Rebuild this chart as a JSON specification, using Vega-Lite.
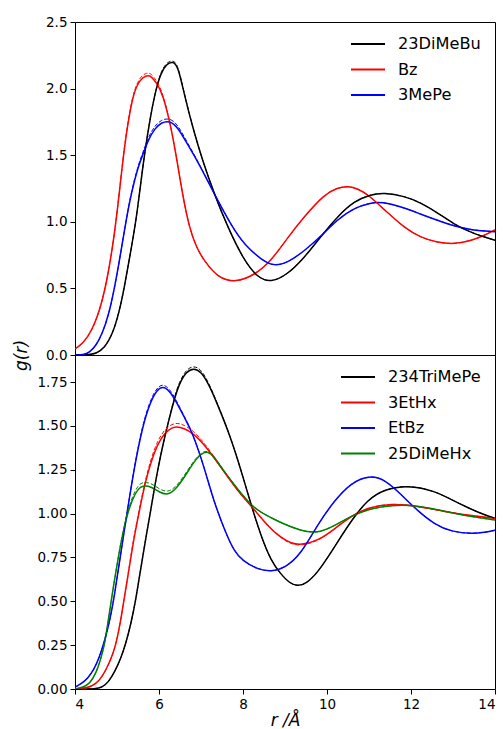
{
  "$schema": "https://vega.github.io/schema/vega-lite/v6.json",
  "padding": {"left": 11, "top": 14, "right": 0, "bottom": 4},
  "background": "white",
  "bounds": "flush",
  "config": {
    "font": "DejaVu Sans",
    "view": {"stroke": "black", "strokeWidth": 1},
    "axis": {
      "grid": false, "domain": false, "tickColor": "black", "tickSize": 5, "tickWidth": 1,
      "labelFont": "DejaVu Sans", "labelFontSize": 13.5, "labelColor": "black", "labelPadding": 3,
      "titleFont": "DejaVu Sans", "titleFontSize": 17, "titleFontWeight": "normal", "titleColor": "black"
    },
    "legend": {
      "orient": "top-right", "offset": 14, "padding": 0,
      "labelFont": "DejaVu Sans", "labelFontSize": 16.2, "labelColor": "black",
      "symbolType": "stroke", "symbolSize": 1156, "symbolStrokeWidth": 2, "labelOffset": 12,
      "clipHeight": 16, "rowPadding": 8.5
    }
  },
  "datasets": {
    "top": [
      {"s":"Bz","r":4.0,"g":0.045,"d":0.045},{"s":"Bz","r":4.2,"g":0.09,"d":0.09},{"s":"Bz","r":4.4,"g":0.18,"d":0.18},{"s":"Bz","r":4.62,"g":0.36,"d":0.36},{"s":"Bz","r":4.8,"g":0.62,"d":0.62},{"s":"Bz","r":4.94,"g":0.91,"d":0.91},{"s":"Bz","r":5.05,"g":1.2,"d":1.2},{"s":"Bz","r":5.17,"g":1.55,"d":1.56},{"s":"Bz","r":5.3,"g":1.82,"d":1.83},{"s":"Bz","r":5.41,"g":1.98,"d":1.99},{"s":"Bz","r":5.55,"g":2.07,"d":2.09},{"s":"Bz","r":5.71,"g":2.1,"d":2.12},{"s":"Bz","r":5.81,"g":2.095,"d":2.115},{"s":"Bz","r":5.95,"g":2.04,"d":2.055},{"s":"Bz","r":6.09,"g":1.96,"d":1.97},{"s":"Bz","r":6.29,"g":1.71,"d":1.71},{"s":"Bz","r":6.43,"g":1.456,"d":1.456},{"s":"Bz","r":6.56,"g":1.206,"d":1.206},{"s":"Bz","r":6.72,"g":0.956,"d":0.956},{"s":"Bz","r":6.9,"g":0.8,"d":0.8},{"s":"Bz","r":7.08,"g":0.706,"d":0.706},{"s":"Bz","r":7.4,"g":0.58,"d":0.58},{"s":"Bz","r":7.83,"g":0.543,"d":0.543},{"s":"Bz","r":8.27,"g":0.6,"d":0.6},{"s":"Bz","r":8.67,"g":0.706,"d":0.706},{"s":"Bz","r":9.06,"g":0.88,"d":0.88},{"s":"Bz","r":9.46,"g":1.04,"d":1.04},{"s":"Bz","r":9.94,"g":1.206,"d":1.206},{"s":"Bz","r":10.25,"g":1.256,"d":1.256},{"s":"Bz","r":10.51,"g":1.269,"d":1.269},{"s":"Bz","r":10.75,"g":1.245,"d":1.245},{"s":"Bz","r":10.97,"g":1.206,"d":1.206},{"s":"Bz","r":11.4,"g":1.081,"d":1.081},{"s":"Bz","r":11.84,"g":0.956,"d":0.956},{"s":"Bz","r":12.24,"g":0.88,"d":0.88},{"s":"Bz","r":12.63,"g":0.845,"d":0.845},{"s":"Bz","r":13.03,"g":0.831,"d":0.831},{"s":"Bz","r":13.43,"g":0.86,"d":0.86},{"s":"Bz","r":13.7,"g":0.89,"d":0.89},{"s":"Bz","r":14.0,"g":0.94,"d":0.94},
      {"s":"23DiMeBu","r":4.0,"g":0.0,"d":0.0},{"s":"23DiMeBu","r":4.3,"g":0.0,"d":0.0},{"s":"23DiMeBu","r":4.5,"g":0.01,"d":0.01},{"s":"23DiMeBu","r":4.7,"g":0.05,"d":0.05},{"s":"23DiMeBu","r":4.9,"g":0.16,"d":0.16},{"s":"23DiMeBu","r":5.05,"g":0.32,"d":0.32},{"s":"23DiMeBu","r":5.17,"g":0.5,"d":0.5},{"s":"23DiMeBu","r":5.3,"g":0.73,"d":0.73},{"s":"23DiMeBu","r":5.45,"g":1.0,"d":1.0},{"s":"23DiMeBu","r":5.55,"g":1.25,"d":1.25},{"s":"23DiMeBu","r":5.65,"g":1.5,"d":1.5},{"s":"23DiMeBu","r":5.8,"g":1.8,"d":1.8},{"s":"23DiMeBu","r":5.93,"g":2.0,"d":2.0},{"s":"23DiMeBu","r":6.05,"g":2.12,"d":2.13},{"s":"23DiMeBu","r":6.18,"g":2.185,"d":2.195},{"s":"23DiMeBu","r":6.33,"g":2.205,"d":2.215},{"s":"23DiMeBu","r":6.45,"g":2.17,"d":2.18},{"s":"23DiMeBu","r":6.6,"g":1.96,"d":1.965},{"s":"23DiMeBu","r":6.8,"g":1.71,"d":1.71},{"s":"23DiMeBu","r":7.04,"g":1.456,"d":1.456},{"s":"23DiMeBu","r":7.32,"g":1.206,"d":1.206},{"s":"23DiMeBu","r":7.64,"g":0.956,"d":0.956},{"s":"23DiMeBu","r":8.03,"g":0.706,"d":0.706},{"s":"23DiMeBu","r":8.35,"g":0.58,"d":0.58},{"s":"23DiMeBu","r":8.67,"g":0.543,"d":0.543},{"s":"23DiMeBu","r":9.06,"g":0.605,"d":0.605},{"s":"23DiMeBu","r":9.46,"g":0.73,"d":0.73},{"s":"23DiMeBu","r":9.86,"g":0.893,"d":0.893},{"s":"23DiMeBu","r":10.25,"g":1.04,"d":1.04},{"s":"23DiMeBu","r":10.65,"g":1.156,"d":1.156},{"s":"23DiMeBu","r":11.05,"g":1.206,"d":1.206},{"s":"23DiMeBu","r":11.36,"g":1.218,"d":1.218},{"s":"23DiMeBu","r":11.84,"g":1.193,"d":1.193},{"s":"23DiMeBu","r":12.24,"g":1.143,"d":1.143},{"s":"23DiMeBu","r":12.63,"g":1.068,"d":1.068},{"s":"23DiMeBu","r":13.03,"g":0.981,"d":0.981},{"s":"23DiMeBu","r":13.43,"g":0.918,"d":0.918},{"s":"23DiMeBu","r":14.0,"g":0.861,"d":0.861},
      {"s":"3MePe","r":4.0,"g":0.0,"d":0.0},{"s":"3MePe","r":4.2,"g":0.0,"d":0.0},{"s":"3MePe","r":4.35,"g":0.02,"d":0.02},{"s":"3MePe","r":4.5,"g":0.07,"d":0.07},{"s":"3MePe","r":4.65,"g":0.16,"d":0.16},{"s":"3MePe","r":4.8,"g":0.3,"d":0.3},{"s":"3MePe","r":4.94,"g":0.5,"d":0.5},{"s":"3MePe","r":5.08,"g":0.75,"d":0.75},{"s":"3MePe","r":5.21,"g":1.0,"d":1.0},{"s":"3MePe","r":5.35,"g":1.23,"d":1.24},{"s":"3MePe","r":5.5,"g":1.41,"d":1.42},{"s":"3MePe","r":5.61,"g":1.5,"d":1.515},{"s":"3MePe","r":5.75,"g":1.62,"d":1.64},{"s":"3MePe","r":5.9,"g":1.7,"d":1.72},{"s":"3MePe","r":6.05,"g":1.745,"d":1.765},{"s":"3MePe","r":6.25,"g":1.76,"d":1.78},{"s":"3MePe","r":6.45,"g":1.71,"d":1.73},{"s":"3MePe","r":6.68,"g":1.58,"d":1.59},{"s":"3MePe","r":6.92,"g":1.456,"d":1.46},{"s":"3MePe","r":7.32,"g":1.206,"d":1.206},{"s":"3MePe","r":7.75,"g":0.956,"d":0.956},{"s":"3MePe","r":8.03,"g":0.83,"d":0.83},{"s":"3MePe","r":8.47,"g":0.706,"d":0.706},{"s":"3MePe","r":8.75,"g":0.668,"d":0.668},{"s":"3MePe","r":9.06,"g":0.693,"d":0.693},{"s":"3MePe","r":9.46,"g":0.78,"d":0.78},{"s":"3MePe","r":9.86,"g":0.893,"d":0.893},{"s":"3MePe","r":10.25,"g":1.018,"d":1.018},{"s":"3MePe","r":10.65,"g":1.106,"d":1.106},{"s":"3MePe","r":11.05,"g":1.143,"d":1.143},{"s":"3MePe","r":11.29,"g":1.151,"d":1.151},{"s":"3MePe","r":11.84,"g":1.106,"d":1.106},{"s":"3MePe","r":12.24,"g":1.056,"d":1.056},{"s":"3MePe","r":12.63,"g":1.011,"d":1.011},{"s":"3MePe","r":13.03,"g":0.968,"d":0.968},{"s":"3MePe","r":13.43,"g":0.938,"d":0.938},{"s":"3MePe","r":14.0,"g":0.926,"d":0.926}
    ],
    "bot": [
      {"s":"234TriMePe","r":4.0,"g":0.0,"d":0.0},{"s":"234TriMePe","r":4.5,"g":0.0,"d":0.0},{"s":"234TriMePe","r":4.65,"g":0.01,"d":0.01},{"s":"234TriMePe","r":4.8,"g":0.04,"d":0.04},{"s":"234TriMePe","r":4.95,"g":0.1,"d":0.1},{"s":"234TriMePe","r":5.1,"g":0.18,"d":0.18},{"s":"234TriMePe","r":5.21,"g":0.26,"d":0.26},{"s":"234TriMePe","r":5.33,"g":0.37,"d":0.37},{"s":"234TriMePe","r":5.44,"g":0.5,"d":0.5},{"s":"234TriMePe","r":5.52,"g":0.62,"d":0.62},{"s":"234TriMePe","r":5.61,"g":0.75,"d":0.75},{"s":"234TriMePe","r":5.7,"g":0.88,"d":0.88},{"s":"234TriMePe","r":5.79,"g":1.0,"d":1.0},{"s":"234TriMePe","r":5.88,"g":1.13,"d":1.13},{"s":"234TriMePe","r":5.97,"g":1.25,"d":1.25},{"s":"234TriMePe","r":6.09,"g":1.39,"d":1.39},{"s":"234TriMePe","r":6.21,"g":1.51,"d":1.51},{"s":"234TriMePe","r":6.35,"g":1.64,"d":1.65},{"s":"234TriMePe","r":6.48,"g":1.74,"d":1.75},{"s":"234TriMePe","r":6.65,"g":1.81,"d":1.822},{"s":"234TriMePe","r":6.83,"g":1.83,"d":1.843},{"s":"234TriMePe","r":7.0,"g":1.81,"d":1.822},{"s":"234TriMePe","r":7.18,"g":1.74,"d":1.748},{"s":"234TriMePe","r":7.38,"g":1.63,"d":1.635},{"s":"234TriMePe","r":7.7,"g":1.44,"d":1.44},{"s":"234TriMePe","r":7.95,"g":1.25,"d":1.25},{"s":"234TriMePe","r":8.18,"g":1.06,"d":1.06},{"s":"234TriMePe","r":8.43,"g":0.87,"d":0.87},{"s":"234TriMePe","r":8.67,"g":0.73,"d":0.73},{"s":"234TriMePe","r":8.9,"g":0.655,"d":0.655},{"s":"234TriMePe","r":9.1,"g":0.605,"d":0.605},{"s":"234TriMePe","r":9.3,"g":0.585,"d":0.585},{"s":"234TriMePe","r":9.5,"g":0.6,"d":0.6},{"s":"234TriMePe","r":9.78,"g":0.663,"d":0.663},{"s":"234TriMePe","r":10.17,"g":0.806,"d":0.806},{"s":"234TriMePe","r":10.57,"g":0.958,"d":0.958},{"s":"234TriMePe","r":10.97,"g":1.081,"d":1.081},{"s":"234TriMePe","r":11.37,"g":1.138,"d":1.138},{"s":"234TriMePe","r":11.92,"g":1.163,"d":1.163},{"s":"234TriMePe","r":12.56,"g":1.129,"d":1.129},{"s":"234TriMePe","r":12.95,"g":1.081,"d":1.081},{"s":"234TriMePe","r":13.35,"g":1.034,"d":1.034},{"s":"234TriMePe","r":13.75,"g":0.992,"d":0.992},{"s":"234TriMePe","r":14.0,"g":0.973,"d":0.973},
      {"s":"3EtHx","r":4.0,"g":0.0,"d":0.0},{"s":"3EtHx","r":4.3,"g":0.005,"d":0.005},{"s":"3EtHx","r":4.5,"g":0.03,"d":0.03},{"s":"3EtHx","r":4.65,"g":0.07,"d":0.07},{"s":"3EtHx","r":4.8,"g":0.14,"d":0.14},{"s":"3EtHx","r":4.9,"g":0.2,"d":0.2},{"s":"3EtHx","r":4.98,"g":0.26,"d":0.26},{"s":"3EtHx","r":5.08,"g":0.38,"d":0.38},{"s":"3EtHx","r":5.16,"g":0.5,"d":0.5},{"s":"3EtHx","r":5.25,"g":0.63,"d":0.63},{"s":"3EtHx","r":5.33,"g":0.75,"d":0.76},{"s":"3EtHx","r":5.42,"g":0.88,"d":0.89},{"s":"3EtHx","r":5.52,"g":1.0,"d":1.01},{"s":"3EtHx","r":5.62,"g":1.12,"d":1.13},{"s":"3EtHx","r":5.73,"g":1.23,"d":1.245},{"s":"3EtHx","r":5.9,"g":1.36,"d":1.38},{"s":"3EtHx","r":6.05,"g":1.43,"d":1.45},{"s":"3EtHx","r":6.2,"g":1.475,"d":1.495},{"s":"3EtHx","r":6.4,"g":1.5,"d":1.52},{"s":"3EtHx","r":6.6,"g":1.485,"d":1.505},{"s":"3EtHx","r":6.8,"g":1.46,"d":1.475},{"s":"3EtHx","r":7.08,"g":1.395,"d":1.405},{"s":"3EtHx","r":7.48,"g":1.262,"d":1.265},{"s":"3EtHx","r":7.87,"g":1.129,"d":1.129},{"s":"3EtHx","r":8.23,"g":1.034,"d":1.034},{"s":"3EtHx","r":8.59,"g":0.929,"d":0.929},{"s":"3EtHx","r":8.9,"g":0.863,"d":0.86},{"s":"3EtHx","r":9.15,"g":0.83,"d":0.826},{"s":"3EtHx","r":9.38,"g":0.821,"d":0.816},{"s":"3EtHx","r":9.78,"g":0.844,"d":0.842},{"s":"3EtHx","r":10.17,"g":0.91,"d":0.91},{"s":"3EtHx","r":10.57,"g":0.986,"d":0.986},{"s":"3EtHx","r":10.97,"g":1.034,"d":1.034},{"s":"3EtHx","r":11.52,"g":1.059,"d":1.059},{"s":"3EtHx","r":12.16,"g":1.043,"d":1.043},{"s":"3EtHx","r":12.95,"g":1.005,"d":1.005},{"s":"3EtHx","r":13.5,"g":0.986,"d":0.986},{"s":"3EtHx","r":14.0,"g":0.973,"d":0.973},
      {"s":"EtBz","r":4.0,"g":0.01,"d":0.01},{"s":"EtBz","r":4.15,"g":0.03,"d":0.03},{"s":"EtBz","r":4.3,"g":0.06,"d":0.06},{"s":"EtBz","r":4.45,"g":0.11,"d":0.11},{"s":"EtBz","r":4.58,"g":0.18,"d":0.18},{"s":"EtBz","r":4.7,"g":0.27,"d":0.27},{"s":"EtBz","r":4.82,"g":0.38,"d":0.38},{"s":"EtBz","r":4.94,"g":0.53,"d":0.53},{"s":"EtBz","r":5.08,"g":0.76,"d":0.76},{"s":"EtBz","r":5.25,"g":1.02,"d":1.02},{"s":"EtBz","r":5.41,"g":1.26,"d":1.265},{"s":"EtBz","r":5.61,"g":1.5,"d":1.51},{"s":"EtBz","r":5.8,"g":1.64,"d":1.652},{"s":"EtBz","r":5.95,"g":1.705,"d":1.717},{"s":"EtBz","r":6.09,"g":1.727,"d":1.74},{"s":"EtBz","r":6.25,"g":1.7,"d":1.712},{"s":"EtBz","r":6.4,"g":1.642,"d":1.652},{"s":"EtBz","r":6.6,"g":1.55,"d":1.555},{"s":"EtBz","r":6.8,"g":1.461,"d":1.461},{"s":"EtBz","r":7.08,"g":1.262,"d":1.262},{"s":"EtBz","r":7.3,"g":1.072,"d":1.072},{"s":"EtBz","r":7.6,"g":0.882,"d":0.882},{"s":"EtBz","r":7.79,"g":0.787,"d":0.787},{"s":"EtBz","r":7.99,"g":0.73,"d":0.73},{"s":"EtBz","r":8.35,"g":0.682,"d":0.682},{"s":"EtBz","r":8.67,"g":0.669,"d":0.669},{"s":"EtBz","r":9.0,"g":0.69,"d":0.69},{"s":"EtBz","r":9.38,"g":0.768,"d":0.768},{"s":"EtBz","r":9.78,"g":0.939,"d":0.939},{"s":"EtBz","r":10.17,"g":1.072,"d":1.072},{"s":"EtBz","r":10.57,"g":1.176,"d":1.176},{"s":"EtBz","r":11.01,"g":1.218,"d":1.218},{"s":"EtBz","r":11.37,"g":1.196,"d":1.196},{"s":"EtBz","r":11.76,"g":1.11,"d":1.11},{"s":"EtBz","r":12.16,"g":1.015,"d":1.015},{"s":"EtBz","r":12.56,"g":0.939,"d":0.939},{"s":"EtBz","r":12.95,"g":0.897,"d":0.897},{"s":"EtBz","r":13.51,"g":0.882,"d":0.882},{"s":"EtBz","r":14.0,"g":0.905,"d":0.905},
      {"s":"25DiMeHx","r":4.0,"g":0.0,"d":0.0},{"s":"25DiMeHx","r":4.2,"g":0.01,"d":0.01},{"s":"25DiMeHx","r":4.35,"g":0.03,"d":0.03},{"s":"25DiMeHx","r":4.5,"g":0.09,"d":0.09},{"s":"25DiMeHx","r":4.6,"g":0.16,"d":0.16},{"s":"25DiMeHx","r":4.7,"g":0.25,"d":0.25},{"s":"25DiMeHx","r":4.78,"g":0.37,"d":0.37},{"s":"25DiMeHx","r":4.86,"g":0.5,"d":0.5},{"s":"25DiMeHx","r":4.94,"g":0.62,"d":0.62},{"s":"25DiMeHx","r":5.03,"g":0.75,"d":0.75},{"s":"25DiMeHx","r":5.14,"g":0.89,"d":0.9},{"s":"25DiMeHx","r":5.25,"g":1.0,"d":1.012},{"s":"25DiMeHx","r":5.38,"g":1.09,"d":1.105},{"s":"25DiMeHx","r":5.5,"g":1.14,"d":1.16},{"s":"25DiMeHx","r":5.61,"g":1.16,"d":1.18},{"s":"25DiMeHx","r":5.81,"g":1.155,"d":1.175},{"s":"25DiMeHx","r":6.0,"g":1.122,"d":1.14},{"s":"25DiMeHx","r":6.21,"g":1.104,"d":1.12},{"s":"25DiMeHx","r":6.4,"g":1.14,"d":1.152},{"s":"25DiMeHx","r":6.6,"g":1.205,"d":1.215},{"s":"25DiMeHx","r":6.84,"g":1.3,"d":1.306},{"s":"25DiMeHx","r":7.0,"g":1.34,"d":1.345},{"s":"25DiMeHx","r":7.14,"g":1.357,"d":1.361},{"s":"25DiMeHx","r":7.3,"g":1.33,"d":1.335},{"s":"25DiMeHx","r":7.48,"g":1.262,"d":1.266},{"s":"25DiMeHx","r":7.87,"g":1.138,"d":1.14},{"s":"25DiMeHx","r":8.27,"g":1.024,"d":1.024},{"s":"25DiMeHx","r":8.67,"g":0.977,"d":0.977},{"s":"25DiMeHx","r":8.9,"g":0.948,"d":0.948},{"s":"25DiMeHx","r":9.38,"g":0.901,"d":0.901},{"s":"25DiMeHx","r":9.78,"g":0.888,"d":0.888},{"s":"25DiMeHx","r":10.17,"g":0.929,"d":0.929},{"s":"25DiMeHx","r":10.57,"g":0.986,"d":0.986},{"s":"25DiMeHx","r":10.97,"g":1.024,"d":1.024},{"s":"25DiMeHx","r":11.52,"g":1.049,"d":1.049},{"s":"25DiMeHx","r":12.16,"g":1.047,"d":1.047},{"s":"25DiMeHx","r":12.95,"g":1.005,"d":1.005},{"s":"25DiMeHx","r":13.5,"g":0.98,"d":0.98},{"s":"25DiMeHx","r":14.0,"g":0.963,"d":0.963}
    ]
  },
  "spacing": 0,
  "resolve": {"scale": {"color": "independent", "x": "independent", "y": "independent"}, "legend": {"color": "independent"}},
  "vconcat": [
    {
      "width": 420, "height": 333,
      "data": {"name": "top"},
      "encoding": {
        "x": {"field": "r", "type": "quantitative", "scale": {"domain": [4, 14], "nice": false, "zero": false}, "axis": null},
        "color": {"field": "s", "type": "nominal", "sort": null, "title": null, "scale": {"domain": ["23DiMeBu", "Bz", "3MePe"], "range": ["#000000", "#ff0000", "#0000ff"]}}
      },
      "layer": [
        {"mark": {"type": "line", "strokeWidth": 1.5, "interpolate": "basis", "clip": true},
         "encoding": {"y": {"field": "g", "type": "quantitative", "scale": {"domain": [0, 2.5], "nice": false},
           "axis": {"values": [0, 0.5, 1, 1.5, 2, 2.5], "format": ".1f", "title": "g(r)", "titleFontStyle": "italic", "titleX": -54, "titleY": 333, "titleAlign": "center", "titleBaseline": "middle", "titleAngle": -90}}}},
        {"mark": {"type": "line", "strokeWidth": 1, "strokeDash": [4, 2], "interpolate": "basis", "clip": true},
         "encoding": {"y": {"field": "d", "type": "quantitative"}}}
      ]
    },
    {
      "width": 420, "height": 334,
      "data": {"name": "bot"},
      "encoding": {
        "x": {"field": "r", "type": "quantitative", "scale": {"domain": [4, 14], "nice": false, "zero": false},
          "axis": {"values": [4, 6, 8, 10, 12, 14], "format": "d", "title": "r /Å", "titleFontStyle": "italic", "titlePadding": 2}},
        "color": {"field": "s", "type": "nominal", "sort": null, "title": null, "scale": {"domain": ["234TriMePe", "3EtHx", "EtBz", "25DiMeHx"], "range": ["#000000", "#ff0000", "#0000ff", "#008000"]}}
      },
      "layer": [
        {"mark": {"type": "line", "strokeWidth": 1.5, "interpolate": "basis", "clip": true},
         "encoding": {"y": {"field": "g", "type": "quantitative", "scale": {"domain": [0, 1.904], "nice": false},
           "axis": {"values": [0, 0.25, 0.5, 0.75, 1, 1.25, 1.5, 1.75], "format": ".2f", "title": null}}}},
        {"mark": {"type": "line", "strokeWidth": 1, "strokeDash": [4, 2], "interpolate": "basis", "clip": true},
         "encoding": {"y": {"field": "d", "type": "quantitative"}}}
      ]
    }
  ]
}
